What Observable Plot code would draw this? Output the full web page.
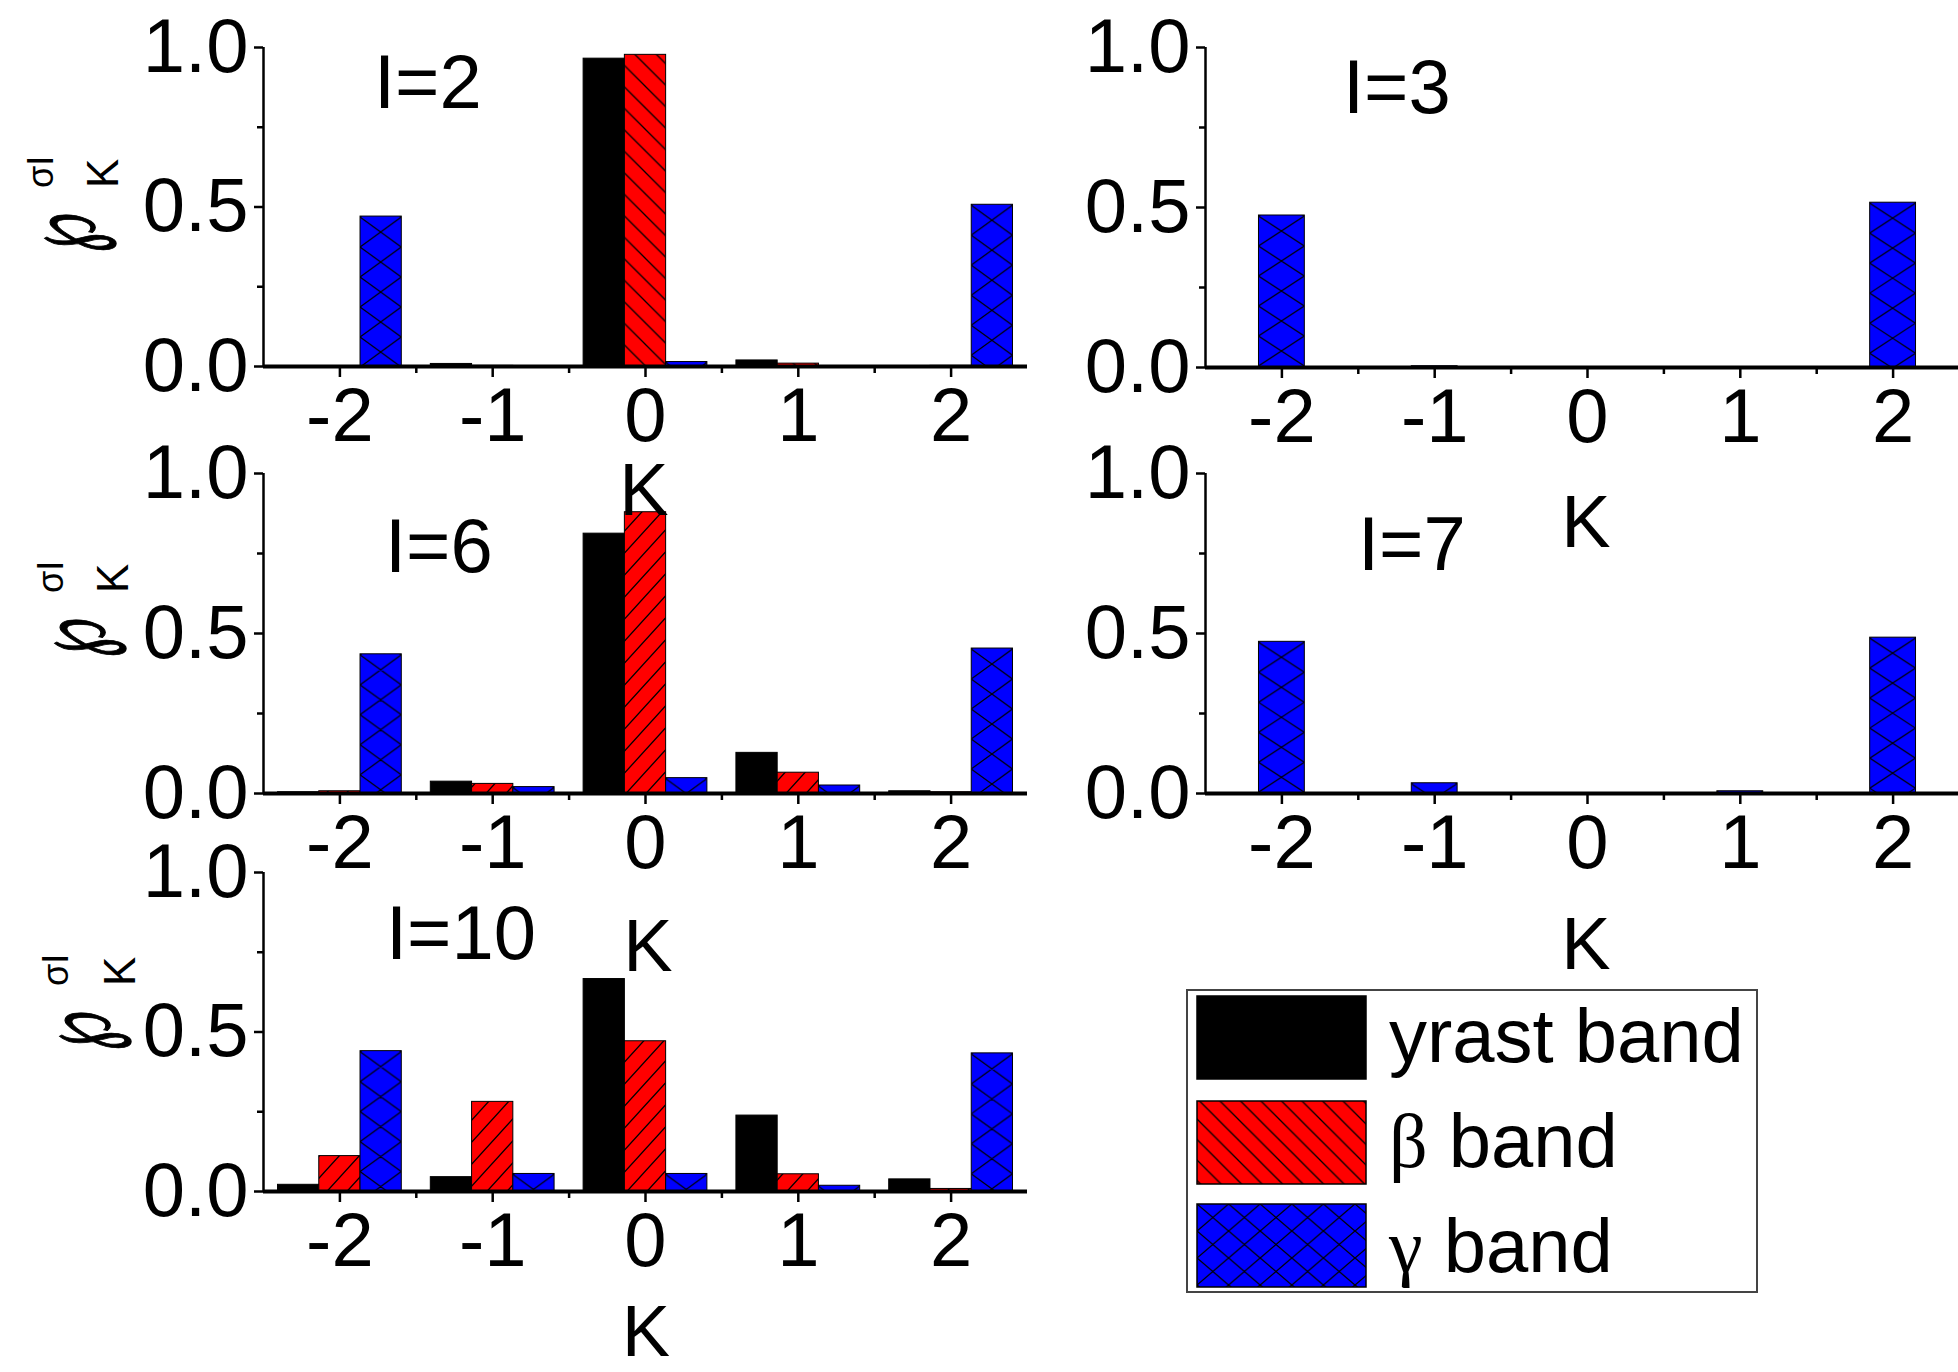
<!DOCTYPE html>
<html><head><meta charset="utf-8">
<script src="https://cdn.jsdelivr.net/npm/d3@7"></script>
<script src="https://cdn.jsdelivr.net/npm/@observablehq/plot@0.6"></script>
<style>
html,body{margin:0;padding:0;background:#fff;}
#page{position:relative;width:1958px;height:1372px;overflow:hidden;background:#fff;font-family:"Liberation Sans",Arial,sans-serif;color:#000;}
#page svg{position:absolute;}
</style></head><body><div id="page"></div>
<script>
// ---------------- data ----------------
const K = [-2, -1, 0, 1, 2];
const yrastI2  = [0.001, 0.008, 0.965, 0.019, 0.001];
const betaI2   = [0.001, 0.002, 0.977, 0.009, 0.002];
const gammaI2  = [0.470, 0.000, 0.014, 0.000, 0.507];
const gammaI3  = [0.475, 0.004, 0.000, 0.000, 0.515];
const yrastI6  = [0.004, 0.037, 0.812, 0.127, 0.007];
const betaI6   = [0.007, 0.030, 0.879, 0.065, 0.004];
const gammaI6  = [0.435, 0.020, 0.048, 0.025, 0.453];
const gammaI7  = [0.474, 0.032, 0.000, 0.007, 0.487];
const yrastI10 = [0.021, 0.045, 0.666, 0.238, 0.038];
const betaI10  = [0.111, 0.281, 0.471, 0.054, 0.008];
const gammaI10 = [0.440, 0.055, 0.055, 0.018, 0.433];
const panelTitles = ["I=2", "I=3", "I=6", "I=7", "I=10"];
const bandNames = ["yrast band", "β band", "γ band"];
const yTicks = [0, 0.5, 1];
const yMinor = [0.25, 0.75];
const xMinor = [-1.5, -0.5, 0.5, 1.5];
const xAxisLabel = "K";

// ---------------- layout / styles ----------------
const NS = "http://www.w3.org/2000/svg";
const page = document.getElementById("page");
const XD = [-2.5, 2.5], FW = 764;
const BLUE = "#0000ff", RED = "#ff0000";

function el(tag, attrs, parent) {
  const e = document.createElementNS(NS, tag);
  for (const k in attrs) e.setAttribute(k, attrs[k]);
  if (parent) parent.appendChild(e);
  return e;
}
const defsSvg = el("svg", {width: 0, height: 0, style: "position:absolute;left:0;top:0"});
page.appendChild(defsSvg);
const defs = el("defs", {}, defsSvg);

function diamondPattern(id, W, P, off) {
  const p = el("pattern", {id, patternUnits: "objectBoundingBox", patternContentUnits: "userSpaceOnUse", x: 0, y: 0, width: 1, height: 1}, defs);
  el("rect", {x: 0, y: 0, width: 300, height: 800, fill: BLUE}, p);
  let d = "";
  for (let k = -1; k < 28; k++) {
    const c = off + k * P;
    d += `M0,${c - P / 2}L${W},${c + P / 2}M0,${c + P / 2}L${W},${c - P / 2}`;
  }
  el("path", {d, stroke: "#000", "stroke-width": 1.2, fill: "none"}, p);
}
function stripePattern(id, w, h, back, ox, oy) {
  const p = el("pattern", {id, patternUnits: "userSpaceOnUse", x: ox || 0, y: oy || 0, width: w, height: h}, defs);
  el("rect", {x: 0, y: 0, width: w, height: h, fill: RED}, p);
  const d = back
    ? `M0,0L${w},${h}M${-w},0L${w},${2 * h}M0,${-h}L${2 * w},${h}`
    : `M0,${h}L${w},0M${-w},${h}L${w},${-h}M0,${2 * h}L${2 * w},0`;
  el("path", {d, stroke: "#000", "stroke-width": 1.3, fill: "none"}, p);
}
function crossPattern(id, W, H, ox, oy) {
  const p = el("pattern", {id, patternUnits: "userSpaceOnUse", x: ox, y: oy, width: W, height: H}, defs);
  el("rect", {x: 0, y: 0, width: W, height: H, fill: BLUE}, p);
  el("path", {d: `M0,0L${W},${H}M${W},0L0,${H}`, stroke: "#000", "stroke-width": 1.3, fill: "none"}, p);
}
diamondPattern("blue3", 0.27 * FW / 5, 30, 16);
diamondPattern("blue1", 0.30 * FW / 5, 30, 16);
stripePattern("redB", 21.5, 21.5, true);
stripePattern("redF", 20, 22, false);
stripePattern("redLeg", 20.5, 20.5, true, 1197, 996);
crossPattern("blueLeg", 31.6, 27, 1197, 1204);

const panels = [
  {left: 263, top: 47, bottom: 366, series: [[yrastI2, "#000"], [betaI2, "url(#redB)"], [gammaI2, "url(#blue3)"]]},
  {left: 1205, top: 47, bottom: 367, series: [[gammaI3, "url(#blue1)"]]},
  {left: 263, top: 473, bottom: 793, series: [[yrastI6, "#000"], [betaI6, "url(#redF)"], [gammaI6, "url(#blue3)"]]},
  {left: 1205, top: 473, bottom: 793, series: [[gammaI7, "url(#blue1)"]]},
  {left: 263, top: 872, bottom: 1191, series: [[yrastI10, "#000"], [betaI10, "url(#redF)"], [gammaI10, "url(#blue3)"]]}
];

const ML = 263, MT = 47, MR = 20, MB = 70;
panels.forEach((pn) => {
  const n = pn.series.length;
  const bw = n === 3 ? 0.27 : 0.30;
  const offs = n === 3 ? [-0.27, 0, 0.27] : [0];
  const barMarks = pn.series.map(([vals, fill], s) =>
    Plot.rectY(K, {
      x1: (k) => k + offs[s] - bw / 2,
      x2: (k) => k + offs[s] + bw / 2,
      y1: 0,
      y2: (k, i) => vals[i],
      fill,
      stroke: "#000",
      strokeWidth: 1
    })
  );
  const fh = pn.bottom - pn.top;
  const chart = Plot.plot({
    width: ML + FW + MR,
    height: MT + fh + MB,
    marginLeft: ML, marginTop: MT, marginRight: MR, marginBottom: MB,
    x: {domain: XD, axis: null},
    y: {domain: [0, 1], axis: null},
    style: {overflow: "visible", background: "transparent", fontFamily: "Liberation Sans, Arial, sans-serif", color: "#000"},
    marks: [
      ...barMarks,
      Plot.ruleX([XD[0]], {strokeWidth: 2.5}),
      Plot.ruleY([0], {strokeWidth: 4}),
      Plot.axisY(yTicks, {tickSize: 9, tickPadding: 6, fontSize: 76, strokeWidth: 2.5, tickFormat: (d) => d.toFixed(1), label: null}),
      Plot.axisY(yMinor, {tickSize: 6, strokeWidth: 2.5, tickFormat: () => "", label: null}),
      Plot.axisX(K, {tickSize: 11, tickPadding: 10, fontSize: 76, strokeWidth: 2.5, tickFormat: (d) => String(d), label: null}),
      Plot.axisX(xMinor, {tickSize: 7, strokeWidth: 2.5, tickFormat: () => "", label: null})
    ]
  });
  chart.style.left = (pn.left - ML) + "px";
  chart.style.top = (pn.top - MT) + "px";
  page.appendChild(chart);
});

// ---------------- overlay text & legend ----------------
const ov = el("svg", {width: 1958, height: 1372, style: "position:absolute;left:0;top:0;overflow:visible", "font-family": "Liberation Sans, Arial, sans-serif"});
page.appendChild(ov);
const titlePos = [[374, 108], [1343, 113], [385, 572], [1358, 570], [386, 959]];
panelTitles.forEach((t, i) => {
  el("text", {x: titlePos[i][0], y: titlePos[i][1], "font-size": 76}, ov).textContent = t;
});
const kPos = [[644, 515, 74], [1586, 547, 74], [648, 971, 74], [1586, 969, 74], [646, 1356, 72]];
kPos.forEach(([x, y, fs]) => {
  el("text", {x, y, "font-size": fs, "text-anchor": "middle"}, ov).textContent = xAxisLabel;
});
// y-axis labels: [baseline x of script p, start y, sup baseline x, sub baseline x]
const yLabPos = [[94, 253, 53, 118], [104, 658, 63, 128], [109, 1051, 68, 135]];
yLabPos.forEach(([x, y, sx, kx]) => {
  const g = el("g", {transform: `translate(${x},${y}) rotate(-90)`}, ov);
  el("text", {x: 0, y: 0, "font-size": 100, transform: "scale(0.58,1)", stroke: "#000", "stroke-width": 1.2, "font-family": "DejaVu Serif, DejaVu Sans, serif"}, g).textContent = "℘";
  el("text", {x: 65, y: sx - x, "font-size": 36}, g).textContent = "σI";
  el("text", {x: 65, y: kx - x, "font-size": 44}, g).textContent = "K";
});
// legend
el("rect", {x: 1187, y: 990, width: 570, height: 302, fill: "#fff", stroke: "#444", "stroke-width": 2}, ov);
const swFill = ["#000", "url(#redLeg)", "url(#blueLeg)"];
const swY = [996, 1101, 1204];
const txY = [1062, 1167, 1272];
bandNames.forEach((name, i) => {
  el("rect", {x: 1197, y: swY[i], width: 169, height: 83, fill: swFill[i], stroke: "#000", "stroke-width": 1.5}, ov);
  const t = el("text", {x: 1389, y: txY[i], "font-size": 76}, ov);
  if (i === 0) t.textContent = name;
  else {
    const parts = name.split(" ");
    el("tspan", {"font-family": "Liberation Serif, Times New Roman, serif"}, t).textContent = parts[0];
    el("tspan", {}, t).textContent = " " + parts.slice(1).join(" ");
  }
});
</script></body></html>
